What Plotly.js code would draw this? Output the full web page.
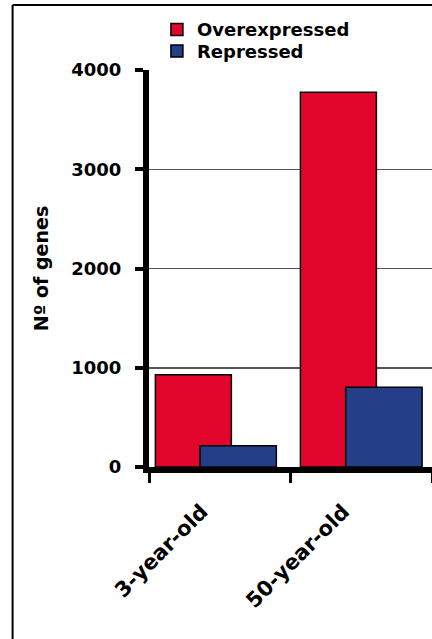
<!DOCTYPE html>
<html>
<head>
<meta charset="utf-8">
<script src="https://cdn.plot.ly/plotly-3.0.1.min.js"></script>
<style>
  html, body { margin: 0; padding: 0; background: #fff; overflow: hidden; }
  #chart { width: 432px; height: 639px; }
</style>
</head>
<body>
<div id="chart"></div>
<script>
// ---- data ----
const categories = ['3-year-old', '50-year-old'];
const overexpressed = [930, 3775];
const repressed = [215, 803];
const yTickValues = [0, 1000, 2000, 3000, 4000];
const yTickLabels = ['0', '1000', '2000', '3000', '4000'];
const seriesNames = ['Overexpressed', 'Repressed'];
const yTitle = 'Nº of genes';

const boldFont = (size) => ({ family: 'DejaVu Sans, Verdana, sans-serif', size: size, color: '#000', weight: 'bold' });

const traces = [
  {
    type: 'bar', name: seriesNames[0], x: categories, y: overexpressed,
    width: 0.537, offset: [-0.455, -0.43],
    marker: { color: '#E2062C', line: { color: '#000', width: 1.5 } },
    legend: 'legend', hoverinfo: 'x+y+name'
  },
  {
    type: 'bar', name: seriesNames[1], x: categories, y: repressed,
    width: 0.54, offset: [-0.14, -0.11],
    marker: { color: '#243F88', line: { color: '#000', width: 1.5 } },
    legend: 'legend2', hoverinfo: 'x+y+name'
  }
];

const legendBase = {
  xanchor: 'left', yanchor: 'top',
  font: boldFont(18), bgcolor: 'rgba(0,0,0,0)', borderwidth: 0
};

const layout = {
  width: 432, height: 639,
  margin: { l: 149, r: 0, t: 70, b: 172, pad: 0 },
  paper_bgcolor: '#fff', plot_bgcolor: '#fff',
  barmode: 'overlay',
  showlegend: true,
  legend: Object.assign({ x: 0.028, y: 1.148 }, legendBase),
  legend2: Object.assign({ x: 0.028, y: 1.094 }, legendBase),
  xaxis: {
    type: 'category', range: [-0.5, 1.5],
    tickson: 'boundaries', ticks: 'outside', ticklen: 10, tickwidth: 3, tickcolor: '#000',
    showline: true, linecolor: '#000', linewidth: 6,
    showgrid: false, zeroline: false,
    tickangle: -45, tickfont: boldFont(21), ticklabelstandoff: 18, ticklabelshift: -18,
    fixedrange: true
  },
  yaxis: {
    range: [0, 4000], tickmode: 'array', tickvals: yTickValues, ticktext: yTickLabels,
    ticks: 'outside', ticklen: 8, tickwidth: 4, tickcolor: '#000',
    showline: true, linecolor: '#000', linewidth: 6,
    showgrid: true, gridcolor: '#555', gridwidth: 1.5, zeroline: false,
    tickfont: boldFont(18), ticklabelstandoff: 10,
    title: { text: yTitle, font: boldFont(19), standoff: 20 },
    fixedrange: true
  },
  shapes: [
    { type: 'line', xref: 'paper', yref: 'paper', x0: -0.482, x1: -0.482, y0: -0.44, y1: 1.164, line: { color: '#000', width: 2 } },
    { type: 'line', xref: 'paper', yref: 'paper', x0: -0.482, x1: 1.05, y0: 1.164, y1: 1.164, line: { color: '#000', width: 2 } }
  ]
};

Plotly.newPlot('chart', traces, layout, { displayModeBar: false, staticPlot: true });
</script>
</body>
</html>
